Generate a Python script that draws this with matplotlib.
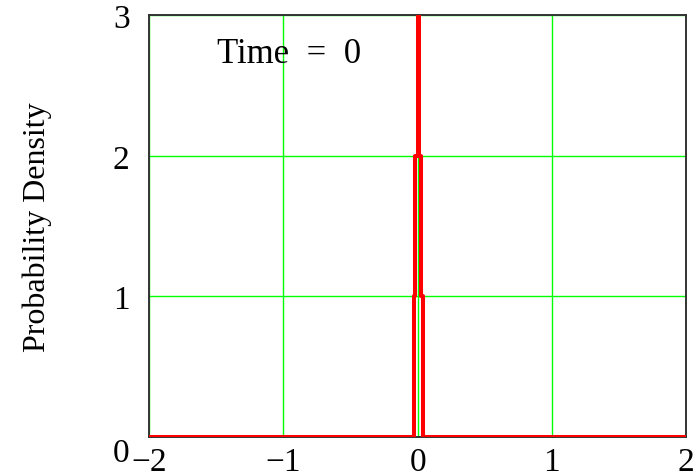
import matplotlib
matplotlib.use("Agg")
import matplotlib.pyplot as plt
import matplotlib.transforms as mtransforms

# narrow peak of the density at time 0 (stepped outline as seen in the plot)
spike_x = [-2.0, -0.030, -0.030, -0.017, -0.017, 0.002, 0.002,
           0.008, 0.008, 0.025, 0.025, 0.040, 0.040, 2.0]
spike_y = [0, 0, 1, 1, 2, 2, 5, 5, 2, 2, 1, 1, 0, 0]

x_ticks = [-2, -1, 0, 1, 2]
y_ticks = [0, 1, 2, 3]
x_labels = ["\u22122", "\u22121", "0", "1", "2"]
y_labels = ["0", "1", "2", "3"]
title_text = "Time  =  0"
y_title = "Probability Density"

plt.rcParams["font.family"] = ["Liberation Serif", "DejaVu Serif"]

fig = plt.figure(figsize=(6.96, 4.77), dpi=100)
ax = fig.add_axes([0.214, 0.082, 0.772, 0.884])

ax.plot(spike_x, spike_y, color="#ff0000", lw=2.9, zorder=3)

ax.set_xlim(-2, 2)
ax.set_ylim(0, 3)
ax.set_xticks(x_ticks)
ax.set_yticks(y_ticks)
ax.set_xticklabels(x_labels)
ax.set_yticklabels(y_labels)
ax.tick_params(length=0, labelsize=24, pad=7)
ax.tick_params(axis="y", pad=14)
ax.grid(True, color="#00ff00", lw=1.0)
ax.set_axisbelow(True)

for sp in ax.spines.values():
    sp.set_color("#333333")
    sp.set_linewidth(1.4)

# the "0" on the y axis sits a bit lower than the others
lab0 = ax.get_yticklabels()[0]
lab0.set_transform(lab0.get_transform() + mtransforms.ScaledTranslation(0, -12 / 100, fig.dpi_scale_trans))

ax.set_ylabel(y_title, fontsize=23, labelpad=44)
ax.text(0.26, 0.91, title_text, transform=ax.transAxes, fontsize=25,
        ha="center", va="center")

fig.savefig("out.png", dpi=100)
